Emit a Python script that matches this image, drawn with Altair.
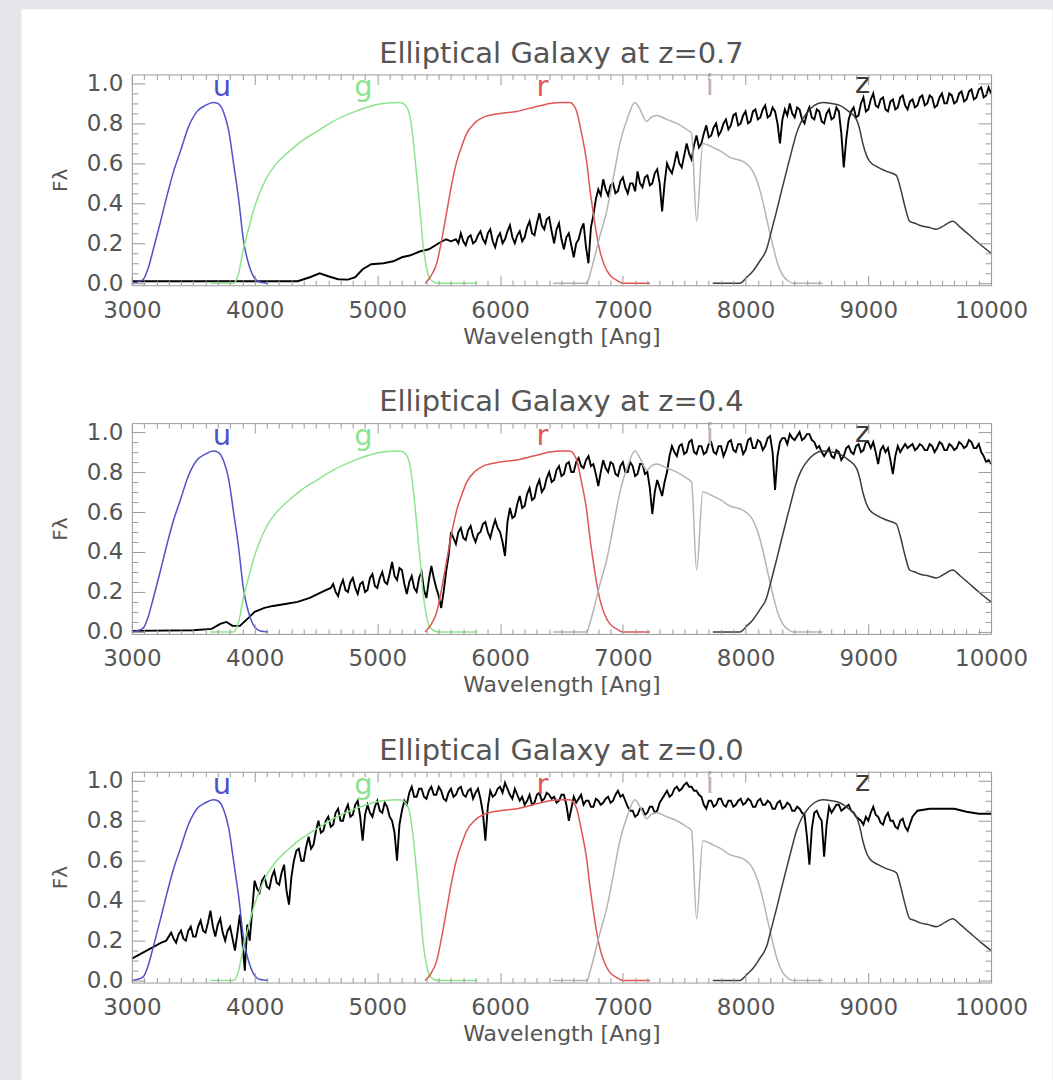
import altair as alt
import pandas as pd

# ---------------- filter transmission curves (same in every panel) ----------------
u_wave = [3000, 3040, 3094, 3130, 3175, 3230, 3287, 3340, 3395, 3460, 3531, 3600, 3663, 3700,
          3745, 3790, 3826, 3870, 3908, 3965, 4000, 4046, 4111]
u_thru = [0.0, 0.005, 0.02, 0.07, 0.17, 0.3, 0.44, 0.56, 0.66, 0.78, 0.86, 0.89, 0.905, 0.9,
          0.86, 0.76, 0.61, 0.42, 0.22, 0.07, 0.025, 0.005, 0.0]

g_wave = [3639, 3826, 3870, 3908, 3950, 3989, 4040, 4100, 4180, 4263, 4380, 4508, 4640, 4779,
          4910, 5047, 5186, 5230, 5267, 5295, 5322, 5350, 5373, 5400, 5430, 5500, 5810]
g_thru = [0.0, 0.0, 0.05, 0.17, 0.27, 0.36, 0.45, 0.53, 0.6, 0.65, 0.71, 0.76, 0.81, 0.85,
          0.88, 0.9, 0.905, 0.89, 0.83, 0.7, 0.53, 0.35, 0.19, 0.08, 0.02, 0.0, 0.0]

r_wave = [5389, 5430, 5484, 5525, 5566, 5607, 5647, 5690, 5728, 5790, 5861, 6000, 6135, 6270,
          6407, 6500, 6569, 6600, 6624, 6660, 6705, 6730, 6757, 6785, 6814, 6850, 6895, 6950,
          7001, 7221]
r_thru = [0.0, 0.03, 0.1, 0.22, 0.36, 0.5, 0.61, 0.69, 0.75, 0.8, 0.83, 0.85, 0.86, 0.88,
          0.9, 0.905, 0.905, 0.89, 0.86, 0.76, 0.61, 0.48, 0.36, 0.25, 0.16, 0.09, 0.04, 0.015,
          0.0, 0.0]

i_wave = [6431, 6708, 6730, 6757, 6810, 6868, 6920, 6976, 7040, 7098, 7140, 7194, 7230, 7275,
          7357, 7440, 7519, 7560, 7601, 7652, 7733, 7800, 7872, 7978, 8059, 8100, 8140, 8180,
          8222, 8260, 8303, 8350, 8385, 8629]
i_thru = [0.0, 0.0, 0.04, 0.1, 0.23, 0.36, 0.52, 0.7, 0.83, 0.905, 0.87, 0.81, 0.83, 0.84,
          0.82, 0.8, 0.77, 0.75, 0.31, 0.7, 0.68, 0.66, 0.63, 0.61, 0.56, 0.5, 0.41, 0.3,
          0.19, 0.1, 0.04, 0.01, 0.0, 0.0]

z_wave = [7733, 7953, 8010, 8059, 8115, 8171, 8210, 8252, 8292, 8333, 8375, 8415, 8455, 8496,
          8560, 8629, 8700, 8767, 8840, 8903, 8930, 8955, 8985, 9011, 9080, 9147, 9228, 9260,
          9300, 9337, 9380, 9418, 9490, 9554, 9620, 9687, 9750, 9825, 9900, 10000]
z_thru = [0.0, 0.0, 0.03, 0.06, 0.11, 0.17, 0.26, 0.36, 0.46, 0.56, 0.66, 0.75, 0.81, 0.85,
          0.89, 0.905, 0.9, 0.89, 0.86, 0.82, 0.77, 0.7, 0.64, 0.61, 0.58, 0.56, 0.54, 0.48,
          0.38, 0.31, 0.3, 0.29, 0.28, 0.27, 0.29, 0.31, 0.28, 0.24, 0.2, 0.15]

band_names = ["u", "g", "r", "i", "z"]
band_colors = ["#5050c8", "#8ee38e", "#e05555", "#b4b4b4", "#3c3c3c"]
letter_x = [3734, 4887, 6345, 7709, 8954]
letter_y = [0.935, 0.935, 0.935, 0.94, 0.95]

# ---------------- galaxy spectra (noisy parts sampled every 20 Angstrom) ----------------
# z = 0.7
p1_smooth_wave = [3000, 3500, 4000, 4200, 4350, 4450, 4530, 4600, 4680, 4760, 4820, 4880, 4950,
                  5050, 5130, 5200, 5270, 5350, 5420, 5500, 5560, 5600]
p1_smooth_flux = [0.01, 0.01, 0.01, 0.01, 0.01, 0.03, 0.05, 0.035, 0.02, 0.018, 0.03, 0.07, 0.095,
                  0.1, 0.11, 0.13, 0.14, 0.16, 0.17, 0.2, 0.22, 0.21]
p1_noisy_start = 5640
p1_noisy_flux = [
    .22, .2, .25, .21, .19, .23, .24, .2, .21, .24,      # 5640
    .26, .22, .2, .25, .27, .21, .18, .23, .25, .2,      # 5840
    .22, .26, .29, .23, .2, .24, .26, .21, .23, .28,     # 6040
    .31, .25, .24, .3, .35, .29, .27, .32, .33, .26,     # 6240
    .2, .27, .3, .22, .17, .23, .25, .19, .13, .2,       # 6440
    .22, .27, .3, .18, .1, .28, .34, .42, .47, .44,      # 6640
    .52, .47, .44, .49, .5, .45, .46, .51, .53, .48,     # 6840
    .45, .5, .5, .46, .56, .5, .48, .53, .54, .49,       # 7040
    .5, .55, .57, .5, .36, .5, .6, .57, .55, .6,         # 7240
    .66, .6, .58, .64, .7, .65, .62, .69, .74, .68,      # 7440
    .7, .75, .79, .73, .74, .78, .8, .74, .76, .8,       # 7640
    .82, .77, .79, .84, .85, .79, .8, .84, .86, .8,      # 7840
    .81, .86, .87, .82, .83, .87, .89, .83, .84, .88,    # 8040
    .86, .8, .7, .82, .87, .84, .9, .85, .83, .88,       # 8240
    .87, .82, .8, .85, .88, .83, .82, .87, .86, .81,     # 8440
    .8, .85, .87, .82, .83, .88, .86, .75, .58, .72,     # 8640
    .82, .86, .88, .83, .84, .9, .93, .86, .87, .92,     # 8840
    .95, .89, .88, .92, .93, .87, .86, .91, .92, .87,    # 9040
    .88, .93, .94, .89, .87, .91, .92, .88, .89, .93,    # 9240
    .94, .89, .9, .94, .93, .88, .89, .93, .95, .9,      # 9440
    .9, .95, .94, .9, .91, .95, .96, .91, .92, .96,      # 9640
    .97, .92, .93, .97, .98, .93, .94, .98, .95,         # 9840
]

# z = 0.4
p2_smooth_wave = [3000, 3500, 3650, 3720, 3770, 3820, 3880, 3950, 4000, 4080, 4150, 4250, 4350,
                  4450, 4550, 4620]
p2_smooth_flux = [0.005, 0.008, 0.015, 0.04, 0.05, 0.03, 0.03, 0.07, 0.1, 0.12, 0.13, 0.14, 0.15,
                  0.17, 0.2, 0.22]
p2_noisy_start = 4640
p2_noisy_flux = [
    .24, .2, .18, .23, .26, .21, .2, .25, .27, .22,      # 4640
    .19, .24, .25, .2, .21, .27, .29, .23, .22, .27,     # 4840
    .3, .25, .24, .29, .35, .28, .26, .32, .31, .24,     # 5040
    .19, .25, .28, .22, .2, .27, .3, .21, .17, .26,      # 5240
    .33, .27, .22, .18, .12, .2, .3, .38, .5, .47,       # 5440
    .44, .5, .52, .47, .46, .51, .53, .48, .45, .49,     # 5640
    .5, .54, .55, .5, .47, .52, .56, .52, .5, .45,       # 5840
    .38, .55, .62, .57, .58, .64, .68, .62, .63, .69,    # 6040
    .72, .66, .67, .73, .76, .7, .72, .77, .8, .75,      # 6240
    .76, .81, .83, .78, .79, .84, .85, .8, .8, .85,      # 6440
    .87, .83, .82, .86, .88, .83, .84, .79, .73, .8,     # 6640
    .86, .82, .8, .85, .84, .79, .78, .83, .85, .8,      # 6840
    .8, .85, .83, .78, .79, .84, .84, .79, .8, .72,      # 7040
    .59, .7, .76, .72, .68, .75, .8, .88, .93, .9,       # 7240
    .88, .93, .94, .89, .9, .95, .96, .9, .89, .93,      # 7440
    .93, .89, .9, .94, .95, .9, .89, .93, .93, .88,      # 7640
    .91, .95, .96, .91, .9, .94, .94, .89, .91, .96,     # 7840
    .97, .92, .92, .96, .95, .91, .93, .97, .98, .9,     # 8040
    .71, .88, .95, .97, .97, .94, .99, .97, .96, .98,    # 8240
    1.0, .96, .97, .99, .99, .96, .95, .92, .93, .9,     # 8440
    .88, .9, .92, .88, .87, .91, .9, .86, .88, .92,      # 8640
    .93, .9, .89, .93, .94, .9, .91, .95, .95, .92,      # 8840
    .95, .9, .84, .91, .93, .9, .92, .86, .79, .88,      # 9040
    .93, .9, .92, .94, .92, .93, .94, .91, .92, .94,     # 9240
    .93, .91, .91, .94, .93, .9, .92, .95, .94, .91,     # 9440
    .91, .94, .93, .91, .92, .95, .94, .92, .93, .96,    # 9640
    .95, .92, .92, .94, .9, .88, .85, .86, .84,          # 9840
]

# z = 0.0
p3_start_wave = [3000, 3060, 3120, 3180, 3240, 3280]
p3_start_flux = [0.11, 0.13, 0.15, 0.17, 0.19, 0.2]
p3_noisy_start = 3320
p3_noisy_flux = [
    .24, .21, .19, .23, .25, .21, .2, .25, .27, .22,     # 3320
    .22, .27, .3, .25, .24, .29, .35, .27, .22, .28,     # 3520
    .31, .24, .2, .25, .27, .21, .15, .24, .33, .2,      # 3720
    .05, .28, .2, .35, .5, .46, .44, .5, .52, .47,       # 3920
    .46, .52, .55, .49, .48, .54, .58, .45, .38, .52,    # 4120
    .6, .65, .66, .6, .6, .67, .72, .66, .68, .75,       # 4320
    .8, .74, .75, .8, .82, .77, .78, .84, .86, .8,       # 4520
    .8, .85, .88, .82, .83, .88, .9, .82, .7, .83,       # 4720
    .88, .84, .82, .87, .9, .85, .84, .89, .87, .82,     # 4920
    .8, .74, .6, .78, .85, .9, .88, .94, .97, .92,       # 5120
    .92, .96, .96, .92, .91, .95, .97, .93, .93, .97,    # 5320
    .95, .91, .9, .94, .96, .92, .93, .96, .97, .93,     # 5520
    .92, .95, .96, .91, .94, .96, .91, .84, .7, .87,     # 5720
    .95, .92, .93, .96, .97, .94, .99, .96, .93, .91,    # 5920
    .96, .93, .9, .92, .88, .9, .93, .88, .89, .93,      # 6120
    .94, .9, .91, .94, .93, .91, .92, .89, .9, .93,      # 6320
    .93, .88, .8, .86, .92, .89, .91, .93, .88, .9,      # 6520
    .9, .87, .87, .91, .9, .88, .89, .91, .92, .89,      # 6720
    .9, .93, .95, .92, .93, .9, .87, .85, .85, .82,      # 6920
    .83, .86, .86, .83, .84, .87, .87, .84, .85, .89,    # 7120
    .91, .93, .95, .92, .93, .96, .97, .95, .96, .98,    # 7320
    .99, .97, .97, .95, .95, .93, .92, .88, .86, .9,     # 7520
    .9, .87, .88, .91, .91, .88, .87, .9, .9, .87,       # 7720
    .88, .9, .91, .88, .89, .91, .9, .87, .87, .9,       # 7920
    .91, .88, .88, .9, .89, .86, .86, .89, .9, .86,      # 8120
    .87, .89, .88, .85, .85, .87, .86, .84, .83, .72,    # 8320
    .58, .76, .84, .85, .82, .8, .62, .78, .87, .84,     # 8520
    .86, .88, .88, .85, .86, .87, .88, .85, .84, .82,    # 8720
    .81, .8, .78, .82, .8, .84, .87, .83, .82, .79,      # 8920
    .78, .82, .84, .8, .8, .77, .76, .8, .81, .77,       # 9120
    .75,                                                 # 9320
]
p3_end_wave = [9360, 9400, 9500, 9600, 9700, 9800, 9900, 10000]
p3_end_flux = [0.82, 0.85, 0.86, 0.86, 0.86, 0.845, 0.835, 0.835]

titles = ["Elliptical Galaxy at z=0.7", "Elliptical Galaxy at z=0.4", "Elliptical Galaxy at z=0.0"]

x_major = [3000, 4000, 5000, 6000, 7000, 8000, 9000, 10000]
x_minor = [w for w in range(3100, 10000, 100) if w % 1000 != 0]
y_major = [0.0, 0.2, 0.4, 0.6, 0.8, 1.0]
y_minor = [0.05, 0.1, 0.15, 0.25, 0.3, 0.35, 0.45, 0.5, 0.55, 0.65, 0.7, 0.75, 0.85, 0.9, 0.95]

# ---------------- layout constants ----------------
W, H = 860, 211
STEP = 20
FONT = "DejaVu Sans"
TXT = "#555555"
FRAME = "#9a9a9a"
xs = alt.Scale(domain=[3000, 10000], nice=False, zero=False)
ys = alt.Scale(domain=[-0.01, 1.045], nice=False, zero=False)


def spectrum_frame(smooth_w, smooth_f, start, noisy_f, tail_w=None, tail_f=None):
    w = list(smooth_w) + [start + STEP * k for k in range(len(noisy_f))]
    f = list(smooth_f) + list(noisy_f)
    if tail_w:
        w += tail_w
        f += tail_f
    return pd.DataFrame({"wave": w, "flux": f})


spectra = [
    spectrum_frame(p1_smooth_wave, p1_smooth_flux, p1_noisy_start, p1_noisy_flux),
    spectrum_frame(p2_smooth_wave, p2_smooth_flux, p2_noisy_start, p2_noisy_flux),
    spectrum_frame(p3_start_wave, p3_start_flux, p3_noisy_start, p3_noisy_flux, p3_end_wave, p3_end_flux),
]

filters = [
    pd.DataFrame({"wave": u_wave, "thru": u_thru}),
    pd.DataFrame({"wave": g_wave, "thru": g_thru}),
    pd.DataFrame({"wave": r_wave, "thru": r_thru}),
    pd.DataFrame({"wave": i_wave, "thru": i_thru}),
    pd.DataFrame({"wave": z_wave, "thru": z_thru}),
]
letters_df = pd.DataFrame({"band": band_names, "wave": letter_x, "pos": letter_y})


def tick_axis(orient, offset, values, size, domain=False):
    return alt.Axis(orient=orient, offset=offset, values=values, labels=False, ticks=True,
                    tickSize=size, tickColor=FRAME, tickWidth=1, domain=domain,
                    domainColor=FRAME, grid=False, title=None, zindex=1)


x_axes = [
    alt.Axis(orient="bottom", values=x_major, format="d", labelFont=FONT, labelFontSize=23,
             labelColor=TXT, labelPadding=14, labelFlush=False, ticks=False, domain=True,
             domainColor=FRAME, grid=False, title="Wavelength [Ang]", titleFont=FONT,
             titleFontSize=22, titleFontWeight="normal", titleColor=TXT, titlePadding=4, zindex=1),
    tick_axis("top", -H, x_major, 10),
    tick_axis("top", -H, x_minor, 5),
    tick_axis("bottom", -H, x_major, 10, domain=True),
    tick_axis("bottom", -H, x_minor, 5),
]
y_axes = [
    alt.Axis(orient="left", values=y_major, format=".1f", labelFont=FONT, labelFontSize=23,
             labelColor=TXT, labelPadding=9, ticks=False, domain=True, domainColor=FRAME,
             grid=False, title="Fλ", titleFont=FONT, titleFontSize=20, titleFontWeight="normal",
             titleColor=TXT, titlePadding=16, zindex=1),
    tick_axis("right", -W, y_major, 13),
    tick_axis("right", -W, y_minor, 6),
    tick_axis("left", -W, y_major, 13, domain=True),
    tick_axis("left", -W, y_minor, 6),
]


def panel(k):
    layers = []
    title_offset = 2
    if k == 0:
        card = alt.Chart(pd.DataFrame({"a": [1]})).mark_rect(color="white").encode(
            x=alt.value(-110.5), x2=alt.value(921.5), y=alt.value(-65), y2=alt.value(1008))
        layers.append(card)
        title_offset = -60
    spec = alt.Chart(spectra[k]).mark_line(color="black", strokeWidth=1.9).encode(
        x=alt.X("wave:Q", scale=xs, axis=None),
        y=alt.Y("flux:Q", scale=ys, axis=None),
    )
    layers.append(spec)
    for j, df in enumerate(filters):
        layers.append(
            alt.Chart(df).mark_line(color=band_colors[j], strokeWidth=1.5, interpolate="monotone").encode(
                x=alt.X("wave:Q", scale=xs, axis=x_axes[j]),
                y=alt.Y("thru:Q", scale=ys, axis=y_axes[j]),
            )
        )
    letters = alt.Chart(letters_df).mark_text(font=FONT, fontSize=29, baseline="alphabetic",
                                              align="center").encode(
        x=alt.X("wave:Q", scale=xs, axis=None),
        y=alt.Y("pos:Q", scale=ys, axis=None),
        text="band:N",
        color=alt.Color("band:N", scale=alt.Scale(domain=band_names, range=band_colors), legend=None),
    )
    layers.append(letters)
    return alt.layer(*layers).resolve_axis(x="independent", y="independent").properties(
        width=W, height=H,
        title=alt.TitleParams(titles[k], font=FONT, fontSize=29, fontWeight="normal", color=TXT,
                              anchor="middle", frame="group", offset=title_offset, zindex=1),
    )


chart = alt.vconcat(panel(0), panel(1), panel(2), spacing=138, bounds="flush").configure(
    background="#e4e6e9",
    padding={"left": 21, "top": 8, "right": 0, "bottom": 0},
).configure_view(stroke="transparent")

chart.save("out.html", embed_options={"renderer": "svg", "actions": False})
